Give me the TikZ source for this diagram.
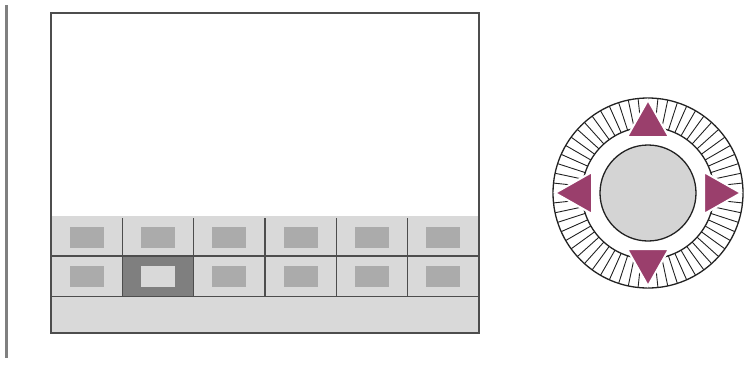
\documentclass[tikz,border=0pt]{standalone}
\usetikzlibrary{calc}
\definecolor{mpanel}{HTML}{D9D9D9}
\definecolor{mline}{HTML}{4D4D4D}
\definecolor{micon}{HTML}{ABABAB}
\definecolor{mselect}{HTML}{7F7F7F}
\definecolor{mbar}{HTML}{808080}
\definecolor{marrow}{HTML}{9A3F6C}
\definecolor{mbutton}{HTML}{D4D4D4}
\definecolor{mring}{HTML}{222222}
\tikzset{mscreen/.style={draw=mline, line width=1.8pt}}
\tikzset{mdivider/.style={draw=mline, line width=1.1pt}}
\tikzset{micon/.style={rectangle, fill=micon, minimum width=34pt, minimum height=21pt, inner sep=0pt}}
\tikzset{mactive/.style={rectangle, fill=mselect, minimum width=71pt, minimum height=40pt, inner sep=0pt}}
\tikzset{mactiveicon/.style={rectangle, fill=mpanel, minimum width=34pt, minimum height=21pt, inner sep=0pt}}
\tikzset{mtick/.style={draw=mring, line width=0.9pt}}
\tikzset{mdialline/.style={draw=mring, line width=1.3pt}}
\tikzset{marrowhead/.style={fill=marrow, draw=white, line width=2pt, line join=miter}}

\begin{document}
\begin{tikzpicture}[x=1pt, y=-1pt]
  \useasboundingbox (0,0) rectangle (746,372);

  % side bar
  \coordinate (bartop) at (6,5);
  \coordinate (barbot) at (6,358);
  \draw[draw=mbar, line width=3pt] (bartop) -- (barbot);

  % screen
  \coordinate (scrTL) at (51,13);
  \coordinate (scrBR) at (479,333);
  \fill[mpanel] (51,216) rectangle (scrBR);

  % icon rows
  \foreach \col in {0,...,5} {
    \node[micon] (iconA\col) at (86.7+71.33*\col,237) {};
    \node[micon] (iconB\col) at (86.7+71.33*\col,276.5) {};
  }
  \node[mactive] (active) at (158,276.5) {};
  \node[mactiveicon] (activeicon) at (active.center) {};

  % grid lines
  \draw[mdivider] (51,256) -- (479,256);
  \draw[mdivider] (51,296.5) -- (479,296.5);
  \foreach \col in {1,...,5} {
    \draw[mdivider] (51+71.33*\col,218) -- (51+71.33*\col,296.5);
  }
  \draw[mscreen] (scrTL) rectangle (scrBR);

  % dial
  \coordinate (dial) at (648,193);
  \foreach \a in {0,6,...,354} {
    \draw[mtick] ($(dial)+(\a:66)$) -- ($(dial)+(\a:95)$);
  }
  \draw[mdialline] (dial) circle (95);
  \draw[mdialline] (dial) circle (66);
  \node[circle, fill=mbutton, draw=mring, line width=1.3pt, minimum size=96pt, inner sep=0pt] (button) at (dial) {};

  % arrows
  \draw[marrowhead] ($(dial)+(0,-93)$) -- ($(dial)+(21,-56)$) -- ($(dial)+(-21,-56)$) -- cycle;
  \draw[marrowhead] ($(dial)+(0,93)$) -- ($(dial)+(21,56)$) -- ($(dial)+(-21,56)$) -- cycle;
  \draw[marrowhead] ($(dial)+(-93,0)$) -- ($(dial)+(-56,21)$) -- ($(dial)+(-56,-21)$) -- cycle;
  \draw[marrowhead] ($(dial)+(93,0)$) -- ($(dial)+(56,21)$) -- ($(dial)+(56,-21)$) -- cycle;
\end{tikzpicture}
\end{document}
